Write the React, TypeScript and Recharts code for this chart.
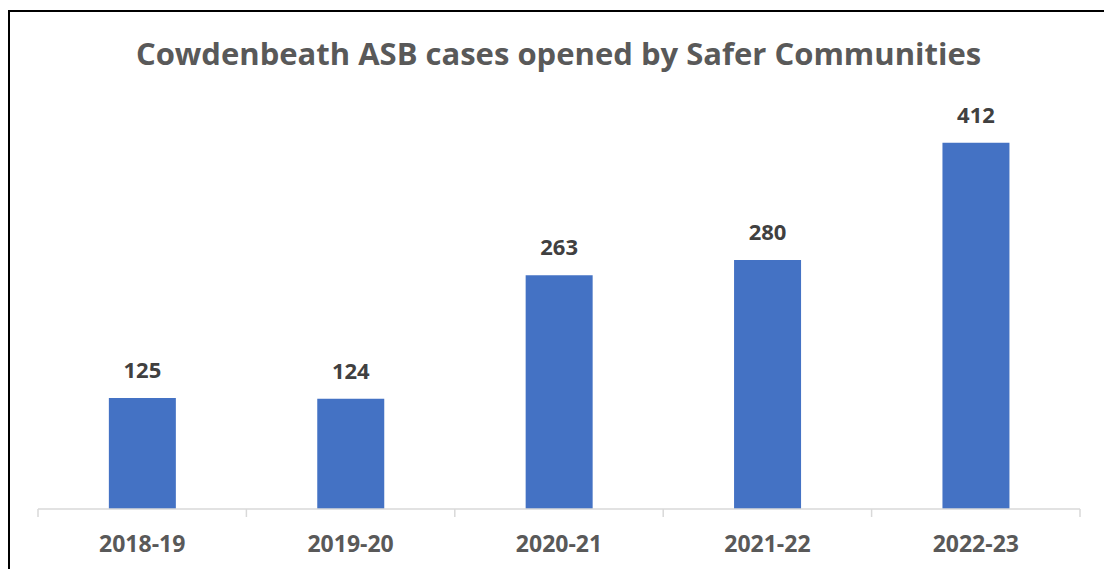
import { BarChart, Bar, XAxis, YAxis, LabelList } from 'recharts'

const years = ['2018-19', '2019-20', '2020-21', '2021-22', '2022-23']
const cases = [125, 124, 263, 280, 412]
const boundaryTicks = [0, 1, 2, 3, 4, 5]

const chartData = years.map((year, i) => ({ year, cases: cases[i] }))

const FONT = '"Open Sans", "Liberation Sans", sans-serif'

export default function App() {
  return (
    <div style={{ position: 'absolute', left: 0, top: 0, width: 1104, height: 569, background: '#fff', overflow: 'hidden', fontFamily: FONT }}>
      {/* chart frame, cropped on the right and bottom */}
      <div style={{ position: 'absolute', left: 8, top: 10, width: 1120, height: 600, borderTop: '2px solid #000', borderLeft: '2px solid #000', boxSizing: 'border-box' }} />
      <div style={{ position: 'absolute', left: 0, top: 32, width: 1117, textAlign: 'center', fontSize: 31, fontWeight: 700, color: '#595959' }}>
        Cowdenbeath ASB cases opened by Safer Communities
      </div>
      <div style={{ position: 'absolute', left: 0, top: 0 }}>
        <BarChart width={1104} height={569} data={chartData} margin={{ top: 109, right: 24, bottom: 10, left: 38 }} barCategoryGap="34%">
          <YAxis hide domain={[0, 450]} />
          {/* boundary tick marks between categories */}
          <XAxis
            xAxisId="a"
            type="number"
            dataKey={() => 0}
            domain={[0, 5]}
            ticks={boundaryTicks}
            height={1}
            tickFormatter={() => ''}
            tickSize={8}
            axisLine={{ stroke: '#d9d9d9', strokeWidth: 1.5 }}
            tickLine={{ stroke: '#d9d9d9', strokeWidth: 1.5 }}
          />
          <XAxis
            xAxisId="b"
            dataKey="year"
            height={49}
            axisLine={false}
            tickLine={false}
            tickMargin={20}
            tick={{ fill: '#595959', fontSize: 23, fontWeight: 700, fontFamily: FONT }}
          />
          <Bar xAxisId="b" dataKey="cases" fill="#4472C4" isAnimationActive={false}>
            <LabelList dataKey="cases" position="top" offset={20} fill="#404040" fontSize={22} fontWeight={700} fontFamily={FONT} />
          </Bar>
        </BarChart>
      </div>
    </div>
  )
}
